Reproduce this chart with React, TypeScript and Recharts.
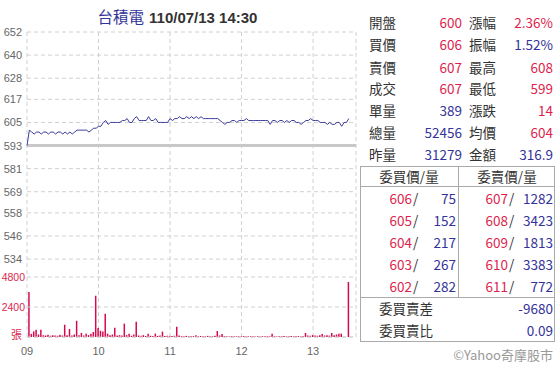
import React from "react";
import {
    ComposedChart,
    Line,
    Bar,
    XAxis,
    YAxis,
    CartesianGrid,
    ReferenceLine,
} from "recharts";

// --- Data (2-minute samples from 09:00 to 13:30) ---

const PRICE = [
    593, 601, 600, 599, 600, 600, 599, 600, 600, 599,
    600, 600, 599, 600, 600, 599, 600, 599, 600, 599,
    600, 601, 601, 601, 601, 601, 600, 601, 602, 602,
    603, 603, 605, 606, 604, 605, 605, 605, 605, 605,
    606, 606, 607, 605, 605, 607, 608, 606, 606, 606,
    606, 608, 606, 606, 607, 605, 605, 605, 605, 605,
    607, 606, 607, 607, 608, 607, 607, 608, 607, 608,
    607, 608, 607, 608, 607, 607, 607, 607, 607, 607,
    607, 606, 605, 604, 605, 605, 606, 606, 605, 606,
    606, 606, 607, 606, 606, 606, 606, 606, 606, 606,
    606, 606, 604, 606, 606, 605, 606, 606, 605, 606,
    605, 606, 606, 605, 605, 604, 605, 606, 606, 607,
    606, 606, 606, 605, 605, 605, 604, 605, 604, 604,
    605, 605, 603, 605, 605, 607,
];

const VOLUME = [
    0, 3600, 250, 450, 590, 200, 590, 150, 120, 180,
    100, 150, 130, 100, 190, 120, 990, 150, 640, 130,
    200, 1300, 150, 320, 120, 270, 150, 270, 400, 3300,
    720, 500, 450, 1870, 270, 150, 200, 750, 120, 150,
    120, 1070, 150, 270, 100, 200, 1230, 120, 100, 150,
    90, 270, 100, 80, 270, 90, 120, 430, 80, 100,
    90, 80, 100, 830, 120, 80, 70, 90, 70, 80,
    70, 150, 60, 80, 70, 60, 90, 60, 70, 100,
    480, 120, 250, 80, 60, 50, 70, 60, 50, 60,
    50, 70, 60, 50, 60, 70, 50, 60, 50, 60,
    70, 60, 50, 270, 60, 50, 70, 60, 80, 60,
    70, 90, 60, 80, 70, 60, 90, 320, 120, 100,
    150, 120, 100, 140, 250, 120, 150, 110, 320, 150,
    200, 270, 270, 0, 0, 4400,
];

const HOUR_TICKS = [0, 60, 120, 180, 240];
const HOUR_LABELS = ["09", "10", "11", "12", "13"];
const PRICE_TICKS = [652, 640, 628, 617, 605, 593, 581, 569, 558, 546, 534];
const VOLUME_TICKS = [0, 2400, 4800];
const VOLUME_TICK_LABELS = ["張", "2400", "4800"];
const PREV_CLOSE = 593;

const QUOTE_LEFT_LABELS = ["開盤", "買價", "賣價", "成交", "單量", "總量", "昨量"];
const QUOTE_LEFT_VALUES = ["600", "606", "607", "607", "389", "52456", "31279"];
const QUOTE_LEFT_UP = [true, true, true, true, false, false, false];
const QUOTE_RIGHT_LABELS = ["漲幅", "振幅", "最高", "最低", "漲跌", "均價", "金額"];
const QUOTE_RIGHT_VALUES = ["2.36%", "1.52%", "608", "599", "14", "604", "316.9"];
const QUOTE_RIGHT_UP = [true, false, true, true, true, true, false];

const BID_PRICES = [606, 605, 604, 603, 602];
const BID_VOLUMES = [75, 152, 217, 267, 282];
const ASK_PRICES = [607, 608, 609, 610, 611];
const ASK_VOLUMES = [1282, 3423, 1813, 3383, 772];

// --- Styles ---

const RED = "#dc1f4e";
const BLUE = "#343399";
const LABEL = "#333";
const GRID = "#d0d0d0";
const BORDER = "#aaa";
const CJK = "'Noto Sans CJK TC', 'Noto Sans', sans-serif";
const LATIN = "'Liberation Sans', Arial, sans-serif";

const ROW_TOPS = [11, 33, 56, 77, 99, 121, 143];
const BOOK_ROW_TOPS = [187, 209, 231, 253, 275];

const chartData = PRICE.map((price, i) => ({
    t: i * 2,
    price,
    vol: VOLUME[i],
}));

function PriceTick({ y, payload }: any)
{
    return (
        <text x={22} y={y} dy={4} textAnchor="end" fill="#666" fontSize={11} fontFamily={LATIN}>
            {payload.value}
        </text>
    );
}

function VolumeTick({ y, payload }: any)
{
    const idx = VOLUME_TICKS.indexOf(payload.value);
    return (
        <text
            x={idx === 0 ? 22 : 25}
            y={y}
            dy={idx === 0 ? 2 : 4}
            textAnchor="end"
            fill={RED}
            fontSize={idx === 0 ? 11 : 10.5}
            fontFamily={idx === 0 ? CJK : LATIN}
        >
            {VOLUME_TICK_LABELS[idx]}
        </text>
    );
}

function Cell({ left, top, width, align, color, children, font }: any)
{
    return (
        <div
            style={{
                position: "absolute",
                left,
                top,
                width,
                height: 22,
                lineHeight: "22px",
                textAlign: align,
                color,
                fontSize: 13.5,
                fontFamily: font ?? CJK,
                whiteSpace: "nowrap",
            }}
        >
            {children}
        </div>
    );
}

function Rule({ left, top, width, height }: any)
{
    return <div style={{ position: "absolute", left, top, width, height, background: BORDER }} />;
}

export default function App()
{
    return (
        <div
            style={{
                position: "absolute",
                left: 0,
                top: 0,
                width: 560,
                height: 367,
                background: "#fff",
                overflow: "hidden",
            }}
        >
            <div
                style={{
                    position: "absolute",
                    left: 0,
                    top: 4,
                    width: 355,
                    textAlign: "center",
                    lineHeight: "24px",
                    whiteSpace: "nowrap",
                }}
            >
                <span style={{ fontFamily: CJK, fontSize: 15.5, color: BLUE }}>台積電</span>
                <span style={{ fontFamily: LATIN, fontSize: 15, fontWeight: "bold", color: "#333", marginLeft: 5 }}>
                    110/07/13 14:30
                </span>
            </div>

            <div style={{ position: "absolute", left: 0, top: 0 }}>
                <ComposedChart
                    width={360}
                    height={367}
                    data={chartData}
                    margin={{ top: 32, right: 4, bottom: 0, left: 0 }}
                >
                    <CartesianGrid yAxisId="p" stroke={GRID} strokeDasharray="4 3" />
                    <XAxis
                        dataKey="t"
                        type="number"
                        domain={[0, 276]}
                        ticks={HOUR_TICKS}
                        tickFormatter={(v) => HOUR_LABELS[HOUR_TICKS.indexOf(v)]}
                        axisLine={false}
                        tickLine={false}
                        height={30}
                        tickMargin={4}
                        tick={{ fontSize: 11, fill: "#666", fontFamily: LATIN }}
                        interval={0}
                    />
                    <YAxis
                        yAxisId="p"
                        domain={[493.5, 652]}
                        ticks={PRICE_TICKS}
                        width={26}
                        axisLine={false}
                        tickLine={false}
                        tick={<PriceTick />}
                        interval={0}
                        allowDataOverflow
                    />
                    <YAxis
                        yAxisId="v"
                        domain={[0, 24400]}
                        ticks={VOLUME_TICKS}
                        width={1}
                        axisLine={false}
                        tickLine={false}
                        tick={<VolumeTick />}
                        interval={0}
                        allowDataOverflow
                    />
                    {VOLUME_TICKS.map((v) => (
                        <ReferenceLine key={v} yAxisId="v" y={v} stroke={GRID} strokeDasharray="4 3" />
                    ))}
                    <ReferenceLine yAxisId="p" y={PREV_CLOSE} stroke="#c8c8c8" strokeWidth={3} />
                    <Bar yAxisId="v" dataKey="vol" fill="#d6094e" barSize={1.5} isAnimationActive={false} />
                    <Line
                        yAxisId="p"
                        dataKey="price"
                        type="linear"
                        stroke="#3b3b9b"
                        strokeWidth={1}
                        dot={false}
                        activeDot={false}
                        isAnimationActive={false}
                    />
                </ComposedChart>
            </div>

            {/* quote table */}
            {QUOTE_LEFT_LABELS.map((label, i) => (
                <React.Fragment key={label}>
                    <Cell left={369} top={ROW_TOPS[i]} width={40} align="left" color={LABEL}>{label}</Cell>
                    <Cell left={402} top={ROW_TOPS[i]} width={60} align="right" color={QUOTE_LEFT_UP[i] ? RED : BLUE}>
                        {QUOTE_LEFT_VALUES[i]}
                    </Cell>
                    <Cell left={469} top={ROW_TOPS[i]} width={40} align="left" color={LABEL}>{QUOTE_RIGHT_LABELS[i]}</Cell>
                    <Cell left={493} top={ROW_TOPS[i]} width={60} align="right" color={QUOTE_RIGHT_UP[i] ? RED : BLUE}>
                        {QUOTE_RIGHT_VALUES[i]}
                    </Cell>
                </React.Fragment>
            ))}

            {/* order book */}
            <div
                style={{
                    position: "absolute",
                    left: 360,
                    top: 166,
                    width: 195,
                    height: 176,
                    border: `1px solid ${BORDER}`,
                    boxSizing: "border-box",
                }}
            />
            <Rule left={360} top={186} width={195} height={1} />
            <Rule left={458} top={166} width={1} height={132} />
            <Rule left={360} top={297} width={195} height={1} />

            <Cell left={360} top={165} width={98} align="center" color={LABEL}>委買價/量</Cell>
            <Cell left={459} top={165} width={96} align="center" color={LABEL}>委賣價/量</Cell>

            {BID_PRICES.map((p, i) => (
                <React.Fragment key={p}>
                    <Cell left={372} top={BOOK_ROW_TOPS[i]} width={40} align="right" color={RED}>{p}</Cell>
                    <Cell left={413} top={BOOK_ROW_TOPS[i]} width={8} align="left" color={LABEL}>/</Cell>
                    <Cell left={416} top={BOOK_ROW_TOPS[i]} width={40} align="right" color={BLUE}>{BID_VOLUMES[i]}</Cell>
                    <Cell left={468} top={BOOK_ROW_TOPS[i]} width={40} align="right" color={RED}>{ASK_PRICES[i]}</Cell>
                    <Cell left={509} top={BOOK_ROW_TOPS[i]} width={8} align="left" color={LABEL}>/</Cell>
                    <Cell left={513} top={BOOK_ROW_TOPS[i]} width={40} align="right" color={BLUE}>{ASK_VOLUMES[i]}</Cell>
                </React.Fragment>
            ))}

            <Cell left={379} top={297} width={80} align="left" color={LABEL}>委買賣差</Cell>
            <Cell left={480} top={297} width={73} align="right" color={BLUE}>-9680</Cell>
            <Cell left={379} top={319} width={80} align="left" color={LABEL}>委買賣比</Cell>
            <Cell left={480} top={319} width={73} align="right" color={BLUE}>0.09</Cell>

            <div
                style={{
                    position: "absolute",
                    left: 400,
                    top: 345,
                    width: 153,
                    textAlign: "right",
                    lineHeight: "20px",
                    fontSize: 13,
                    fontFamily: CJK,
                    color: "#999",
                    whiteSpace: "nowrap",
                }}
            >
                ©Yahoo奇摩股市
            </div>
        </div>
    );
}
